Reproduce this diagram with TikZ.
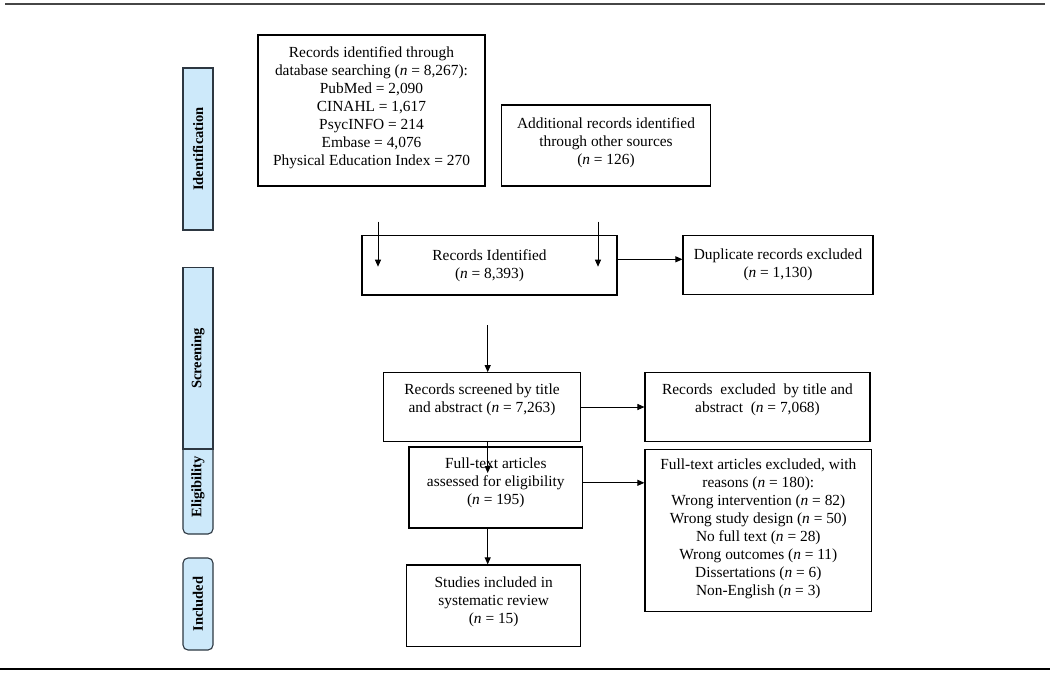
\documentclass[tikz,border=0pt]{standalone}
\usepackage{fontspec}
\setmainfont{Liberation Serif}
\usetikzlibrary{arrows.meta}
\definecolor{sidefill}{RGB}{205,233,250}
\definecolor{sideline}{RGB}{45,55,65}
\newcommand\nn{\textit{n}}
\newcommand\upby[2]{\raisebox{#1}[\height][\depth]{\begin{tabular}{@{}c@{}}#2\end{tabular}}}
\begin{document}
\begin{tikzpicture}[x=1pt,y=-1pt,
  every node/.style={font=\fontsize{15.4}{18}\selectfont},
  box/.style={draw=black, line width=1.1pt, align=center, inner sep=0pt},
  side/.style={draw=sideline, fill=sidefill, line width=1.1pt, inner sep=0pt,
    font=\bfseries\fontsize{14.5}{18}\selectfont},
  arr/.style={line width=0.9pt, -{Triangle[length=7pt,width=6pt]}}]
\useasboundingbox (0,0) rectangle (1050,675);
% rules
\coordinate (tl) at (5,4.3);
\coordinate (tr) at (1045,4.3);
\draw[line width=2.2pt, gray!55!black] (tl) -- (tr);
\coordinate (bl) at (0,669);
\coordinate (br) at (1050,669);
\draw[line width=2pt, black] (bl) -- (br);
% side labels
\node[side, minimum width=30, minimum height=162] (ident) at (198,149)
  {\rotatebox{90}{Identification}};
\node[side, rounded corners=5pt, minimum width=30, minimum height=94] (elig) at (198,487)
  {\rotatebox{90}{Eligibility}};
\node[side, minimum width=30, minimum height=181.3] (screen) at (198,358.3)
  {\rotatebox{90}{Screening}};
\node[side, rounded corners=5pt, minimum width=30, minimum height=92] (incl) at (198,604)
  {\rotatebox{90}{Included}};
% boxes
\node[box, minimum width=227, minimum height=151] (db) at (371.5,110.5)
  {\upby{3pt}{Records identified through\\database searching (\nn{} = 8,267):\\PubMed = 2,090\\CINAHL = 1,617\\PsycINFO = 214\\Embase = 4,076\\Physical Education Index = 270}};
\node[box, minimum width=208.5, minimum height=81] (other) at (606,145.5)
  {\upby{2.5pt}{Additional records identified\\through other sources\\(\nn{} = 126)}};
\node[box, minimum width=255, minimum height=59.3] (ident2) at (489.5,265.3)
  {Records Identified\\(\nn{} = 8,393)};
\node[box, minimum width=190, minimum height=58.5] (dup) at (778,265)
  {Duplicate records excluded\\(\nn{} = 1,130)};
\node[box, minimum width=197.7, minimum height=69] (screened) at (482,407.2)
  {\upby{7pt}{Records screened by title\\and abstract (\nn{} = 7,263)}};
\node[box, minimum width=225, minimum height=69] (exc1) at (757.5,407.2)
  {\upby{7pt}{Records~ excluded~ by title and\\abstract~ (\nn{} = 7,068)}};
\node[box, minimum width=173.7, minimum height=81] (full) at (495.8,487.5)
  {\upby{4.5pt}{Full-text articles\\assessed for eligibility\\(\nn{} = 195)}};
\node[box, minimum width=226.7, minimum height=162.4] (exc2) at (758.3,530.5)
  {\upby{1.5pt}{Full-text articles excluded, with\\reasons (\nn{} = 180):\\Wrong intervention (\nn{} = 82)\\Wrong study design (\nn{} = 50)\\No full text (\nn{} = 28)\\Wrong outcomes (\nn{} = 11)\\Dissertations (\nn{} = 6)\\Non-English (\nn{} = 3)}};
\node[box, minimum width=174, minimum height=81.7] (incl2) at (493.7,605.8)
  {\upby{4pt}{Studies included in\\systematic review\\(\nn{} = 15)}};
% connectors
\coordinate (a1s) at (378,221.7);
\coordinate (a1e) at (378,266.7);
\coordinate (a2s) at (598,221.7);
\coordinate (a2e) at (598,266.7);
\draw[arr] (a1s) -- (a1e);
\draw[arr] (a2s) -- (a2e);
\draw[arr] (ident2.east |- 0,259.3) -- (dup.west |- 0,259.3);
\coordinate (a3s) at (487.7,325);
\draw[arr] (a3s) -- (screened.north -| a3s);
\draw[arr] (screened.east |- 0,407) -- (exc1.west |- 0,407);
\coordinate (a4e) at (487.7,473);
\draw[arr] (screened.south -| a4e) -- (a4e);
\draw[arr] (full.east |- 0,482.8) -- (exc2.west |- 0,482.8);
\draw[arr] (full.south -| a4e) -- (incl2.north -| a4e);
\end{tikzpicture}
\end{document}
